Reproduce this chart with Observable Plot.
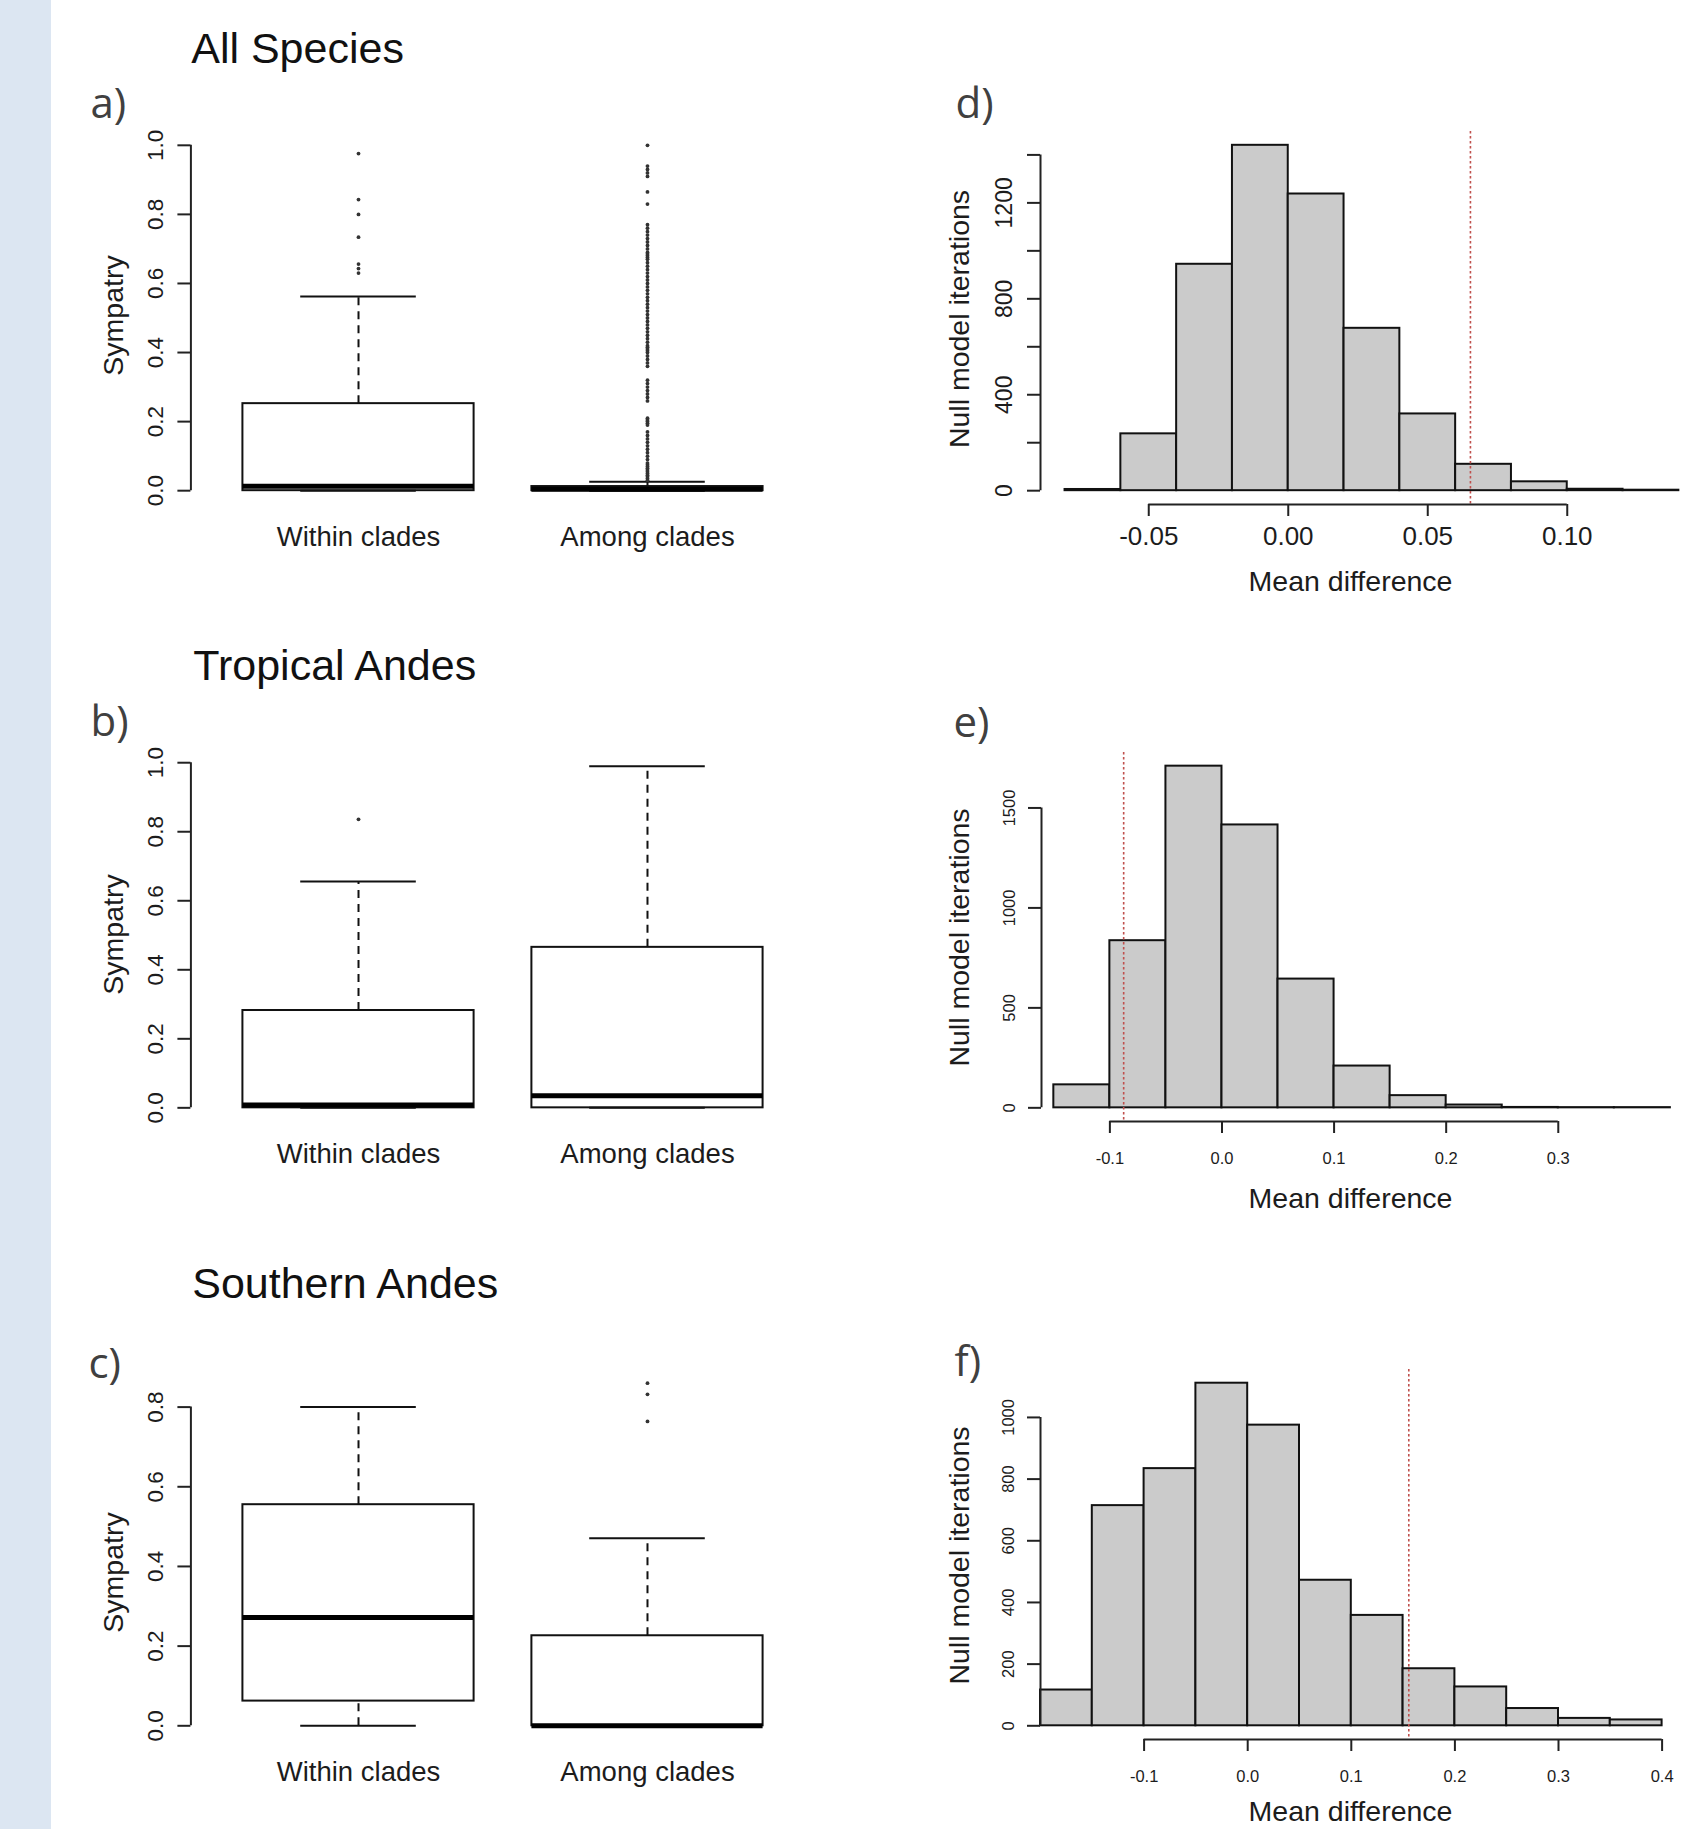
<!DOCTYPE html>
<html>
<head>
<meta charset="utf-8">
<script src="https://cdn.jsdelivr.net/npm/d3@7"></script>
<script src="https://cdn.jsdelivr.net/npm/@observablehq/plot@0.6"></script>
<style>
  html, body { margin: 0; padding: 0; background: #fff; overflow: hidden; }
  #page { position: relative; width: 1682px; height: 1829px; overflow: hidden; background: #fff; }
  #strip { position: absolute; left: 0; top: 0; width: 51px; height: 1829px; background: #dce6f2; }
</style>
</head>
<body>
<div id="page"><div id="strip"></div></div>
<script>
// ------------------------------------------------------------------ data
const groups = ["Within clades", "Among clades"];

// a) All Species  (values per group: Within, Among)
const allLower  = [0, 0];
const allQ1     = [0, 0];
const allMedian = [0.013, 0.004];
const allQ3     = [0.252, 0.012];
const allUpper  = [0.562, 0.026];
const allOutWithin = [0.976, 0.843, 0.80, 0.734, 0.656, 0.643, 0.63];
const allOutAmong = [1.0, 0.94, 0.93, 0.92, 0.91, 0.865, 0.83, 0.77, 0.76, 0.75, 0.74, 0.73,
  0.72, 0.71, 0.70, 0.69, 0.685, 0.68, 0.675, 0.67, 0.66, 0.65, 0.64, 0.63, 0.62, 0.61, 0.60,
  0.59, 0.58, 0.57, 0.56, 0.55, 0.54, 0.53, 0.52, 0.51, 0.50, 0.49, 0.48, 0.47, 0.46, 0.45,
  0.44, 0.43, 0.42, 0.415, 0.41, 0.405, 0.40, 0.39, 0.38, 0.37, 0.36, 0.32, 0.31, 0.30, 0.29,
  0.28, 0.27, 0.26, 0.21, 0.205, 0.20, 0.195, 0.19, 0.17, 0.16, 0.15, 0.14, 0.13, 0.12, 0.11,
  0.10, 0.09, 0.08, 0.075, 0.07, 0.065, 0.06, 0.055, 0.05, 0.045, 0.04, 0.035, 0.03];

// b) Tropical Andes
const tropLower  = [0, 0];
const tropQ1     = [0, 0];
const tropMedian = [0.008, 0.035];
const tropQ3     = [0.282, 0.465];
const tropUpper  = [0.656, 0.99];
const tropOutWithin = [0.836];
const tropOutAmong  = [];

// c) Southern Andes
const southLower  = [0, 0];
const southQ1     = [0.062, 0];
const southMedian = [0.272, 0.0];
const southQ3     = [0.555, 0.226];
const southUpper  = [0.80, 0.471];
const southOutWithin = [];
const southOutAmong  = [0.860, 0.832, 0.764];

// d) null model, All Species
const dEdges  = [-0.08, -0.06, -0.04, -0.02, 0, 0.02, 0.04, 0.06, 0.08, 0.10, 0.12, 0.14];
const dCounts = [5, 237, 944, 1440, 1237, 677, 320, 110, 37, 6, 2];
const dObserved = 0.0653;

// e) null model, Tropical Andes
const eEdges  = [-0.15, -0.10, -0.05, 0, 0.05, 0.10, 0.15, 0.20, 0.25, 0.30, 0.35, 0.40];
const eCounts = [115, 836, 1709, 1415, 644, 209, 61, 14, 2, 1, 1];
const eObserved = -0.0877;

// f) null model, Southern Andes
const fEdges  = [-0.20, -0.15, -0.10, -0.05, 0, 0.05, 0.10, 0.15, 0.20, 0.25, 0.30, 0.35, 0.40];
const fCounts = [116, 714, 834, 1111, 975, 472, 358, 185, 126, 56, 24, 19];
const fObserved = 0.1555;

// tick values
const boxTicksAB = [0, 0.2, 0.4, 0.6, 0.8, 1.0];
const boxTicksC  = [0, 0.2, 0.4, 0.6, 0.8];
const dYTicks = [0, 200, 400, 600, 800, 1000, 1200, 1400];
const dYLabelled = [0, 400, 800, 1200];
const dXTicks = [-0.05, 0, 0.05, 0.10];
const eYTicks = [0, 500, 1000, 1500];
const eXTicks = [-0.1, 0, 0.1, 0.2, 0.3];
const fYTicks = [0, 200, 400, 600, 800, 1000];
const fXTicks = [-0.1, 0, 0.1, 0.2, 0.3, 0.4];

const titles  = ["All Species", "Tropical Andes", "Southern Andes"];
const letters = ["a)", "b)", "c)", "d)", "e)", "f)"];

// ------------------------------------------------------------------ layout
const page = document.getElementById("page");
const FONT = '"Liberation Sans", Arial, Helvetica, sans-serif';
const INK = "#1c1c1c";
const LABEL_SIZE = 28.5;
const rowsL = [
  {top: 0,    h: 610, fTop: 131,  fBot: 504},
  {top: 610,  h: 615, fTop: 752,  fBot: 1121},
  {top: 1225, h: 604, fTop: 1369, fBot: 1739}
];

function mount(svg, left, top) {
  svg.style.position = "absolute";
  svg.style.left = left + "px";
  svg.style.top = top + "px";
  page.appendChild(svg);
}

// text placed at an absolute page position, expressed relative to the frame's top-left
function absText(txt, ax, ay, fl, ft, o = {}) {
  return Plot.text([txt], {text: d => d, frameAnchor: "top-left", dx: ax - fl, dy: ay - ft,
    lineAnchor: "bottom", textAnchor: "start", ...o});
}

// ------------------------------------------------------------------ box plots
function boxPanel(cfg) {
  const {lower, q1, median, q3, upper, outWithin, outAmong, yTicks, row, title, titleX, titleY,
         letter, letterX, letterY, ylabY} = cfg;
  const stats = groups.map((g, i) => ({g, pos: i + 1, lower: lower[i], q1: q1[i], median: median[i], q3: q3[i], upper: upper[i]}));
  const outs = [...outWithin.map(v => ({pos: 1, v})), ...outAmong.map(v => ({pos: 2, v}))];
  const all = [...lower, ...upper, ...outWithin, ...outAmong];
  const lo = d3.min(all), hi = d3.max(all), pad = 0.04 * (hi - lo);
  const yDomain = [lo - pad, hi + pad];
  const xDomain = [0.5 - 0.04 * groups.length, groups.length + 0.5 + 0.04 * groups.length];
  const svgLeft = 52, svgW = 788, fl = 190.4, fr = 814.6;
  const svg = Plot.plot({
    width: svgW, height: row.h,
    marginLeft: fl - svgLeft, marginRight: svgLeft + svgW - fr,
    marginTop: row.fTop - row.top, marginBottom: row.top + row.h - row.fBot,
    x: {domain: xDomain, axis: null},
    y: {domain: yDomain, axis: null},
    style: {fontFamily: FONT, color: INK, background: "transparent", overflow: "visible"},
    marks: [
      Plot.rect(stats, {x1: d => d.pos - 0.4, x2: d => d.pos + 0.4, y1: "q1", y2: "q3", fill: "white", stroke: "#111", strokeWidth: 2}),
      Plot.ruleX(stats.filter(d => d.upper > d.q3), {x: "pos", y1: "q3", y2: "upper", stroke: "#111", strokeWidth: 2, strokeDasharray: "8,6"}),
      Plot.ruleX(stats.filter(d => d.lower < d.q1), {x: "pos", y1: "lower", y2: "q1", stroke: "#111", strokeWidth: 2, strokeDasharray: "8,6"}),
      Plot.ruleY(stats, {y: "upper", x1: d => d.pos - 0.2, x2: d => d.pos + 0.2, stroke: "#111", strokeWidth: 2}),
      Plot.ruleY(stats, {y: "lower", x1: d => d.pos - 0.2, x2: d => d.pos + 0.2, stroke: "#111", strokeWidth: 2}),
      Plot.ruleY(stats, {y: "median", x1: d => d.pos - 0.4, x2: d => d.pos + 0.4, stroke: "#000", strokeWidth: 5}),
      Plot.dot(outs, {x: "pos", y: "v", r: 1.9, fill: "#333"}),
      Plot.ruleX([xDomain[0]], {y1: yTicks[0], y2: yTicks[yTicks.length - 1], stroke: "#222", strokeWidth: 2}),
      Plot.axisY({ticks: yTicks, tickFormat: v => v.toFixed(1), tickSize: 13, tickPadding: 15.4, tickRotate: -90,
                  fontSize: 22.5, stroke: "#222", strokeWidth: 2, label: null}),
      Plot.axisX({ticks: groups.map((g, i) => i + 1), tickFormat: i => groups[i - 1], tickSize: 0, tickPadding: 21.5,
                  fontSize: 27.5, label: null}),
      absText("Sympatry", 122.8, ylabY, fl, row.fTop, {rotate: -90, textAnchor: "middle", fontSize: LABEL_SIZE}),
      absText(title, titleX, titleY, fl, row.fTop, {fontSize: 43, fill: "#111"}),
      absText(letter, letterX, letterY, fl, row.fTop, {fontSize: 42, fontFamily: '"Open Sans", sans-serif', fill: "#404040"})
    ]
  });
  mount(svg, svgLeft, row.top);
}

// ------------------------------------------------------------------ histograms
function histPanel(cfg) {
  const {edges, counts, observed, xDomain, fl, pxPerUnit, xTicks, xFormat, yTicks, yLabelled,
         xFont, yFont, xPad, yPad, row, letter, letterX, letterY, xlabY, ylabY} = cfg;
  const bins = counts.map((c, i) => ({x0: edges[i], x1: edges[i + 1], count: c}));
  const maxC = d3.max(counts);
  const yDomain = [-0.04 * maxC, 1.04 * maxC];
  const svgLeft = 840;
  const fr = fl + (xDomain[1] - xDomain[0]) * pxPerUnit;
  const svgW = Math.max(842, Math.ceil(fr - svgLeft));
  const svg = Plot.plot({
    width: svgW, height: row.h,
    marginLeft: fl - svgLeft, marginRight: svgLeft + svgW - fr,
    marginTop: row.fTop - row.top, marginBottom: row.top + row.h - row.fBot,
    x: {domain: xDomain, axis: null},
    y: {domain: yDomain, axis: null},
    style: {fontFamily: FONT, color: INK, background: "transparent", overflow: "visible"},
    marks: [
      Plot.rect(bins, {x1: "x0", x2: "x1", y1: d => 0, y2: "count", fill: "#cbcbcb", stroke: "#111", strokeWidth: 2}),
      Plot.ruleX([observed], {stroke: "#c0504d", strokeWidth: 1.6, strokeDasharray: "2.5,2.5"}),
      Plot.ruleY([yDomain[0]], {x1: xTicks[0], x2: xTicks[xTicks.length - 1], stroke: "#222", strokeWidth: 2}),
      Plot.ruleX([xDomain[0]], {y1: yTicks[0], y2: yTicks[yTicks.length - 1], stroke: "#222", strokeWidth: 2}),
      Plot.axisX({ticks: xTicks, tickFormat: xFormat, tickSize: 12, tickPadding: xPad, fontSize: xFont,
                  stroke: "#222", strokeWidth: 2, label: null}),
      Plot.axisY({ticks: yTicks, tickFormat: v => yLabelled.includes(v) ? String(v) : "", tickSize: 13, tickPadding: yPad,
                  tickRotate: -90, fontSize: yFont, stroke: "#222", strokeWidth: 2, label: null}),
      absText("Mean difference", 1350, xlabY, fl, row.fTop, {textAnchor: "middle", fontSize: LABEL_SIZE}),
      absText("Null model iterations", 968, ylabY, fl, row.fTop, {rotate: -90, textAnchor: "middle", fontSize: LABEL_SIZE}),
      absText(letter, letterX, letterY, fl, row.fTop, {fontSize: 42, fontFamily: '"Open Sans", sans-serif', fill: "#404040"})
    ]
  });
  mount(svg, svgLeft, row.top);
}

// ------------------------------------------------------------------ draw
boxPanel({lower: allLower, q1: allQ1, median: allMedian, q3: allQ3, upper: allUpper,
  outWithin: allOutWithin, outAmong: allOutAmong, yTicks: boxTicksAB, row: rowsL[0],
  title: titles[0], titleX: 190.7, titleY: 62, letter: letters[0], letterX: 90, letterY: 117, ylabY: 315});
boxPanel({lower: tropLower, q1: tropQ1, median: tropMedian, q3: tropQ3, upper: tropUpper,
  outWithin: tropOutWithin, outAmong: tropOutAmong, yTicks: boxTicksAB, row: rowsL[1],
  title: titles[1], titleX: 192.8, titleY: 679, letter: letters[1], letterX: 90, letterY: 735, ylabY: 934});
boxPanel({lower: southLower, q1: southQ1, median: southMedian, q3: southQ3, upper: southUpper,
  outWithin: southOutWithin, outAmong: southOutAmong, yTicks: boxTicksC, row: rowsL[2],
  title: titles[2], titleX: 191.7, titleY: 1297.7, letter: letters[2], letterX: 88, letterY: 1377, ylabY: 1572});

const rng = e => [e[0] - 0.04 * (e[e.length - 1] - e[0]), e[e.length - 1] + 0.04 * (e[e.length - 1] - e[0])];
histPanel({edges: dEdges, counts: dCounts, observed: dObserved, xDomain: rng(dEdges), fl: 1040, pxPerUnit: 2790,
  xTicks: dXTicks, xFormat: v => v.toFixed(2), yTicks: dYTicks, yLabelled: dYLabelled, xFont: 26, yFont: 23,
  xPad: 10.5, yPad: 15.3,
  row: rowsL[0], letter: letters[3], letterX: 955, letterY: 117, xlabY: 590, ylabY: 318.5});
histPanel({edges: eEdges, counts: eCounts, observed: eObserved, xDomain: [-0.161, 0.41], fl: 1041, pxPerUnit: 1121,
  xTicks: eXTicks, xFormat: v => v.toFixed(1), yTicks: eYTicks, yLabelled: eYTicks, xFont: 16.5, yFont: 16.5,
  xPad: 18.4, yPad: 13.5,
  row: rowsL[1], letter: letters[4], letterX: 953, letterY: 736, xlabY: 1207.5, ylabY: 937});
histPanel({edges: fEdges, counts: fCounts, observed: fObserved, xDomain: [-0.2, 0.4], fl: 1040, pxPerUnit: 1036,
  xTicks: fXTicks, xFormat: v => v.toFixed(1), yTicks: fYTicks, yLabelled: fYTicks, xFont: 16.5, yFont: 16.5,
  xPad: 19, yPad: 13.5,
  row: rowsL[2], letter: letters[5], letterX: 954, letterY: 1375, xlabY: 1820, ylabY: 1555});
</script>
</body>
</html>
